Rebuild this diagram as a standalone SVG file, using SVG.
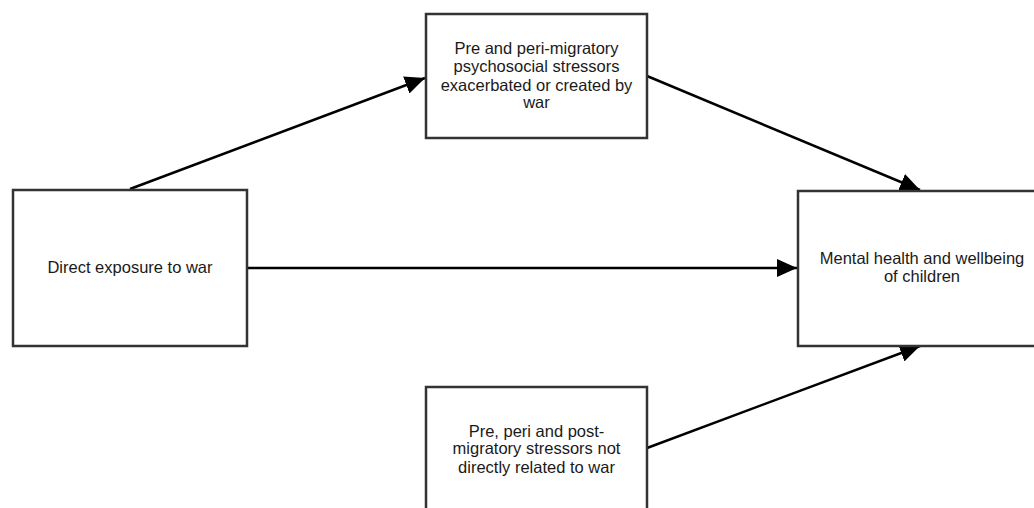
<svg xmlns="http://www.w3.org/2000/svg" width="1034" height="508" viewBox="0 0 1034 508">
<style>
.box{fill:#fff;stroke:#333;stroke-width:2.5}
.lbl{font-family:"Liberation Sans",Arial,sans-serif;font-size:16.5px;fill:#1a1a1a;text-anchor:middle}
.edge{stroke:#000;stroke-width:2.5;fill:none}
</style>
<defs>
<marker id="ah" markerUnits="userSpaceOnUse" markerWidth="22" markerHeight="18" refX="20" refY="9" orient="auto">
<path d="M0,0 L20,9 L0,18 Z" fill="#000"/>
</marker>
</defs>
<rect width="1034" height="508" fill="#fff"/>
<g id="connectors">
<line class="edge" x1="130" y1="189" x2="425" y2="78" marker-end="url(#ah)"/>
<line class="edge" x1="647" y1="76" x2="920" y2="190" marker-end="url(#ah)"/>
<line class="edge" x1="247" y1="268" x2="797" y2="268" marker-end="url(#ah)"/>
<line class="edge" x1="647" y1="448" x2="920" y2="346" marker-end="url(#ah)"/>
</g>
<g id="node-top">
<rect class="box" x="426" y="14" width="221" height="124"/>
<text class="lbl" x="536.5" y="54">Pre and peri-migratory</text>
<text class="lbl" x="536.5" y="72">psychosocial stressors</text>
<text class="lbl" x="536.5" y="91">exacerbated or created by</text>
<text class="lbl" x="536.5" y="108">war</text>
</g>
<g id="node-left">
<rect class="box" x="13" y="190" width="234" height="156"/>
<text class="lbl" x="130" y="273">Direct exposure to war</text>
</g>
<g id="node-right">
<rect class="box" x="798" y="191" width="250" height="155"/>
<text class="lbl" x="922" y="264">Mental health and wellbeing</text>
<text class="lbl" x="922" y="282">of children</text>
</g>
<g id="node-bottom">
<rect class="box" x="426" y="387" width="221" height="130"/>
<text class="lbl" x="536.5" y="437">Pre, peri and post-</text>
<text class="lbl" x="536.5" y="454">migratory stressors not</text>
<text class="lbl" x="536.5" y="473">directly related to war</text>
</g>
</svg>
